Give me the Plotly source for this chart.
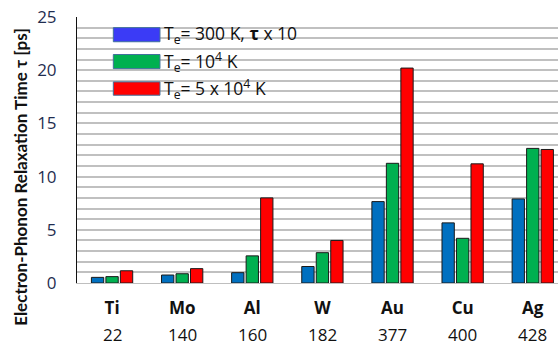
import plotly.graph_objects as go

elements = ["Ti", "Mo", "Al", "W", "Au", "Cu", "Ag"]
debye_numbers = ["22", "140", "160", "182", "377", "400", "428"]
tau_300K_x10 = [0.53, 0.75, 0.97, 1.55, 7.65, 5.65, 7.9]
tau_1e4K = [0.6, 0.87, 2.55, 2.85, 11.25, 4.2, 12.65]
tau_5e4K = [1.15, 1.35, 8.0, 4.0, 20.2, 11.2, 12.55]
series_names = ["T<sub>e</sub>= 300 K, <b>τ</b> x 10",
                "T<sub>e</sub>= 10<sup>4</sup> K",
                "T<sub>e</sub>= 5 x 10<sup>4</sup> K"]
bar_colors = ["#0070C0", "#00B050", "#FF0000"]
legend_colors = ["#3B3BF6", "#00B050", "#FF0000"]
y_ticks = [0, 5, 10, 15, 20, 25]

fig = go.Figure()
for vals, name, col in zip([tau_300K_x10, tau_1e4K, tau_5e4K], series_names, bar_colors):
    fig.add_trace(go.Bar(x=elements, y=vals, name=name, showlegend=False,
                         marker=dict(color=col, line=dict(color="#1a1a1a", width=1))))

# manual legend (wide swatches)
leg_y = [(0.907, 0.960), (0.806, 0.859), (0.706, 0.756)]
for (y0, y1), name, col in zip(leg_y, series_names, legend_colors):
    fig.add_shape(type="rect", xref="paper", yref="paper", x0=0.0755, x1=0.1725,
                  y0=y0, y1=y1, fillcolor=col, line=dict(color="#41719C", width=1))
    fig.add_annotation(xref="paper", yref="paper", x=0.176, y=(y0 + y1) / 2,
                       text=name, showarrow=False, xanchor="left", yanchor="middle",
                       font=dict(family="Open Sans", size=17.5, color="#111"))

# second row of category labels
for el, num in zip(elements, debye_numbers):
    fig.add_annotation(xref="x", yref="paper", x=el, y=-0.193, text=num,
                       showarrow=False, yanchor="middle",
                       font=dict(family="Open Sans", size=17, color="#111"))

# y title
fig.add_annotation(xref="paper", yref="paper", x=-0.118, y=0.40, textangle=-90,
                   text="<b>Electron-Phonon Relaxation Time τ [ps]</b>",
                   showarrow=False, xanchor="center", yanchor="middle",
                   font=dict(family="Lato", size=17, color="#111"))

fig.update_layout(
    width=558, height=346,
    margin=dict(l=77, r=0, t=17, b=63),
    paper_bgcolor="white", plot_bgcolor="white",
    barmode="group", bargap=0.38, bargroupgap=0.15,
    font=dict(family="Open Sans"),
)
fig.update_xaxes(range=[-0.5, 6.36], showgrid=False, showline=True,
                 linecolor="#BFBFBF", linewidth=1, ticks="",
                 tickfont=dict(family="Open Sans", size=17, color="#111"),
                 tickvals=elements, ticktext=["<b>%s</b>" % e for e in elements],
                 ticklabelstandoff=10)
fig.update_yaxes(range=[0, 25], tickvals=y_ticks, showgrid=True,
                 gridcolor="#C0C0C0", gridwidth=1.5,
                 minor=dict(dtick=1, showgrid=True, gridcolor="#C0C0C0", gridwidth=1.5),
                 showline=True, linecolor="#111", linewidth=1, zeroline=False,
                 tickfont=dict(family="Open Sans", size=17, color="#1F2D50"),
                 ticks="", ticklabelstandoff=16)

fig.write_html("out.html")
